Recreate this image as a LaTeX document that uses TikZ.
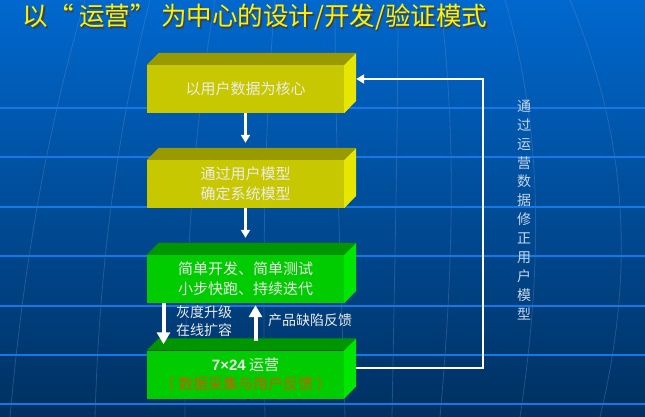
\documentclass[tikz,border=0pt]{standalone}
\usepackage{fontspec}
\newfontfamily\cjk{Noto Sans CJK SC}
\setmainfont{Liberation Sans}
\usetikzlibrary{arrows.meta}
\definecolor{bgtop}{RGB}{0,104,206}
\definecolor{bgbot}{RGB}{0,48,96}
\definecolor{hline}{RGB}{20,120,230}
\definecolor{yfront}{RGB}{200,200,0}
\definecolor{ytop}{RGB}{153,153,0}
\definecolor{yside}{RGB}{230,230,0}
\definecolor{gfront}{RGB}{0,204,0}
\definecolor{gtop}{RGB}{0,150,0}
\definecolor{gside}{RGB}{0,230,0}
\definecolor{boxtext}{RGB}{235,235,235}
\definecolor{vtext}{RGB}{200,215,235}
\definecolor{orangetext}{RGB}{200,95,0}
\definecolor{meridian}{RGB}{120,150,200}
\newcommand\boxfaces[3]{%
  \fill[#2] (#1.north west) -- ++(12,-12) -- ++(197,0) -- (#1.north east) -- cycle;
  \fill[#3] (#1.north east) -- ++(12,-12) -- ++(0,48) -- (#1.south east) -- cycle;}
\begin{document}
\begin{tikzpicture}[x=1pt,y=-1pt,
  box/.style={minimum width=197pt,minimum height=48pt,inner sep=0pt,align=center,
    text=boxtext,font=\cjk\fontsize{15}{19.5}\selectfont},
  thinarrow/.style={draw=white,line width=2.2pt,-{Triangle[length=8pt,width=9pt]}},
  thickarrow/.style={draw=white,line width=4pt,-{Triangle[length=12pt,width=13pt]}},
  lbl/.style={text=boxtext,font=\cjk\fontsize{14}{18}\selectfont,align=left,inner sep=0pt},
  ttl/.style={font=\cjk\fontsize{25.5}{30}\selectfont,inner sep=0pt},
  mer/.style={draw=meridian,line width=0.8pt,opacity=0.3}]
\useasboundingbox (0,0) rectangle (645,417);
\shade[top color=bgtop,bottom color=bgbot] (0,0) rectangle (645,417);
% faint globe meridians
\draw[mer] (10,417) .. controls (25,250) and (50,120) .. (85,0);
\draw[mer] (95,417) .. controls (100,250) and (120,120) .. (150,0);
\draw[mer] (185,417) .. controls (185,250) and (195,120) .. (215,0);
\draw[mer] (265,417) .. controls (262,250) and (265,120) .. (275,0);
\draw[mer] (345,417) .. controls (340,250) and (335,120) .. (335,0);
\draw[mer] (392,417) .. controls (395,250) and (398,120) .. (398,0);
\draw[mer] (440,417) .. controls (455,250) and (455,120) .. (440,0);
\draw[mer] (520,417) .. controls (545,250) and (540,120) .. (505,0);
\draw[mer] (600,417) .. controls (640,250) and (620,120) .. (570,0);
% horizontal lines
\foreach \yy in {108,157,207,256,306,355,404}
  \draw[hline,line width=1.3pt] (0,\yy) -- (645,\yy);
% title
\node[ttl,text=black!75] at (256.5,18.5) {以“ 运营” 为中心的设计/开发/验证模式};
\node[ttl,text=yellow] (title) at (255,17) {以“ 运营” 为中心的设计/开发/验证模式};
% boxes
\node[box,fill=yfront] (b1) at (245.5,89) {以用户数据为核心};
\node[box,fill=yfront] (b2) at (245.5,184) {通过用户模型\\确定系统模型};
\node[box,fill=gfront] (b3) at (245.5,279) {简单开发、简单测试\\小步快跑、持续迭代};
\node[box,fill=gfront] (b4) at (245.5,374.5) {{\bfseries\fontspec{Liberation Sans}7×24} 运营\\\textcolor{orangetext}{（ 数据采集与用户反馈 ）}};
\boxfaces{b1}{ytop}{yside}
\boxfaces{b2}{ytop}{yside}
\boxfaces{b3}{gtop}{gside}
\boxfaces{b4}{gtop}{gside}
% arrows
\draw[thinarrow] (b1.south) -- ([yshift=17pt]b2.north);
\draw[thinarrow] (b2.south) -- ([yshift=17pt]b3.north);
\draw[thickarrow] ([xshift=-82pt]b3.south) -- ([xshift=-82pt,yshift=6pt]b4.north);
\draw[thickarrow] ([xshift=10pt,yshift=9pt]b4.north) -- ([xshift=10pt,yshift=-2pt]b3.south);
\node[lbl,anchor=north west] (l1) at (176,305) {灰度升级\\在线扩容};
\node[lbl,anchor=west] (l2) at (268,320) {产品缺陷反馈};
% feedback loop
\coordinate (c1) at (483,368);
\coordinate (c2) at (483,79);
\draw[draw=white,line width=2.2pt,-{Triangle[length=8pt,width=9pt]}]
  ([xshift=12pt]b4.east |- 0,368) -- (c1) -- (c2) -- ([xshift=12pt]b1.east |- 0,79);
\node[text=vtext,font=\cjk\fontsize{14}{18.9}\selectfont,align=center,inner sep=0pt] (vt) at (524,210)
  {通\\过\\运\\营\\数\\据\\修\\正\\用\\户\\模\\型};
\end{tikzpicture}
\end{document}
